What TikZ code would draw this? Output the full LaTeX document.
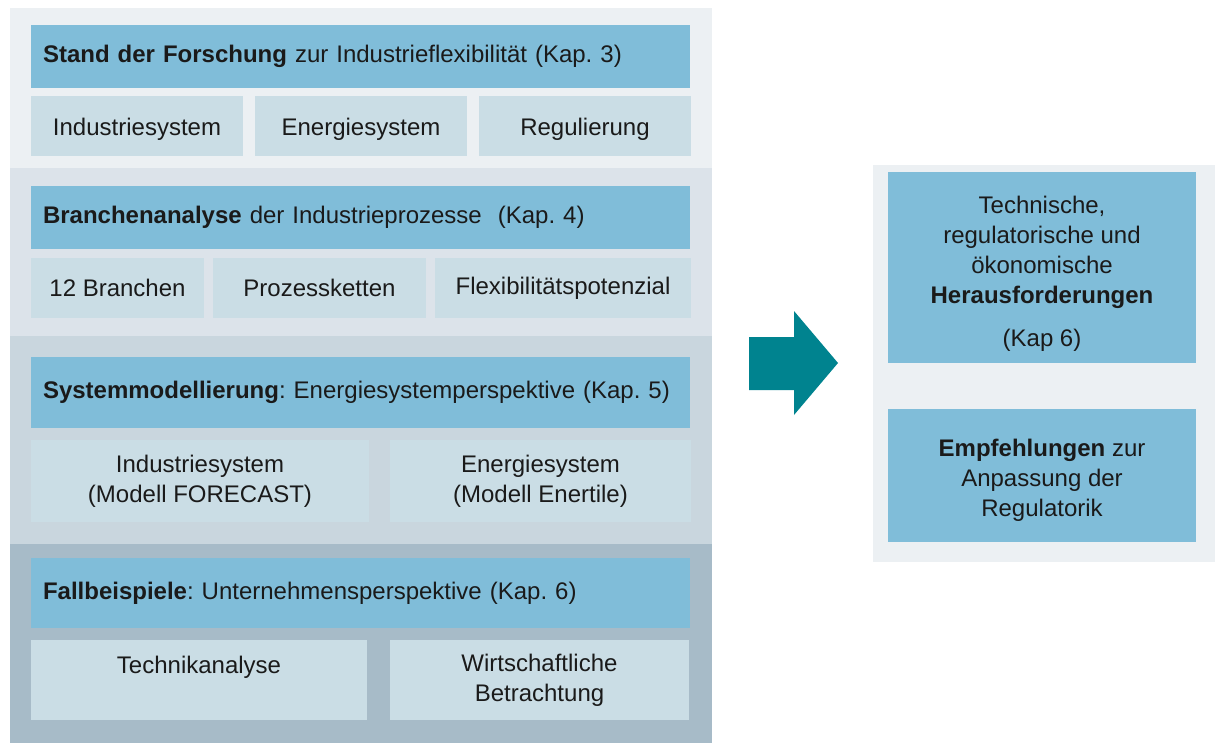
\documentclass[tikz,border=0pt]{standalone}
\usepackage{fontspec}
\setmainfont{Liberation Sans}
\frenchspacing
\definecolor{bandA}{HTML}{ECF0F3}
\definecolor{bandB}{HTML}{DCE3EA}
\definecolor{bandC}{HTML}{C9D6DE}
\definecolor{bandD}{HTML}{A7BBC8}
\definecolor{hdrc}{HTML}{80BDD9}
\definecolor{subc}{HTML}{CADDE5}
\definecolor{arrowc}{HTML}{00838F}
\definecolor{txt}{HTML}{1A1A1A}
\begin{document}
\begin{tikzpicture}[x=1pt,y=-1pt,
  every node/.style={inner sep=0pt, outer sep=0pt, text=txt,
    font=\fontsize{24}{30}\selectfont},
  band/.style={fill=#1, anchor=north west, minimum width=702pt},
  hdr/.style={fill=hdrc, anchor=north west, text width=635pt,
    inner xsep=12pt, align=left},
  sub/.style={fill=subc, anchor=north west, align=center},
  outbox/.style={fill=hdrc, anchor=north west, minimum width=308pt,
    align=center}]
\useasboundingbox (0,0) rectangle (1215,743);

% background bands of the four work packages
\node[band=bandA, minimum height=160pt] (b1) at (10,8) {};
\node[band=bandB, minimum height=168pt] (b2) at (10,168) {};
\node[band=bandC, minimum height=208pt] (b3) at (10,336) {};
\node[band=bandD, minimum height=199pt] (b4) at (10,544) {};

% Kap. 3
\node[hdr, minimum height=63pt] (h1) at (31,25)
  {\textbf{Stand der Forschung} zur Industrieflexibilität (Kap. 3)};
\node[sub, minimum width=212pt, minimum height=60pt] (s11) at (31,96) {\rule{0pt}{24pt}Industriesystem};
\node[sub, minimum width=212pt, minimum height=60pt] (s12) at (255,96) {\rule{0pt}{24pt}Energiesystem};
\node[sub, minimum width=212pt, minimum height=60pt] (s13) at (479,96) {\rule{0pt}{24pt}Regulierung};

% Kap. 4
\node[hdr, minimum height=63pt] (h2) at (31,186)
  {\textbf{Branchenanalyse} der Industrieprozesse\ \ (Kap. 4)};
\node[sub, minimum width=173pt, minimum height=60pt] (s21) at (31,258) {12 Branchen};
\node[sub, minimum width=213pt, minimum height=60pt] (s22) at (213,258) {Prozessketten};
\node[sub, minimum width=256pt, minimum height=60pt] (s23) at (435,258) {Flexibilitätspotenzial};

% Kap. 5
\node[hdr, minimum height=71pt] (h3) at (31,357)
  {\textbf{Systemmodellierung}: Energiesystemperspektive (Kap. 5)};
\node[sub, minimum width=338pt, minimum height=82pt] (s31) at (31,440)
  {Industriesystem\\(Modell FORECAST)};
\node[sub, minimum width=301pt, minimum height=82pt] (s32) at (390,440)
  {Energiesystem\\(Modell Enertile)};

% Kap. 6
\node[hdr, minimum height=70pt] (h4) at (31,558)
  {\textbf{Fallbeispiele}: Unternehmensperspektive (Kap. 6)};
\node[sub, minimum width=336pt, minimum height=80pt] (s41) at (31,640)
  {Technikanalyse\\\mbox{}};
\node[sub, minimum width=299pt, minimum height=80pt] (s42) at (390,640)
  {Wirtschaftliche\\Betrachtung};

% arrow towards the results
\fill[arrowc] (749,337) -- (794,337) -- (794,311) -- (838,363)
  -- (794,415) -- (794,390) -- (749,390) -- cycle;

% results panel
\node[fill=bandA, anchor=north west, minimum width=342pt, minimum height=397pt] (res) at (873,165) {};
\node[outbox, minimum height=191pt] (o1) at (888,172)
  {\rule{0pt}{30pt}Technische,\\regulatorische und\\ökonomische\\\textbf{Herausforderungen}\\[13pt](Kap 6)};
\node[outbox, minimum height=133pt] (o2) at (888,409)
  {\rule{0pt}{26pt}\textbf{Empfehlungen} zur\\Anpassung der\\Regulatorik};
\end{tikzpicture}
\end{document}
